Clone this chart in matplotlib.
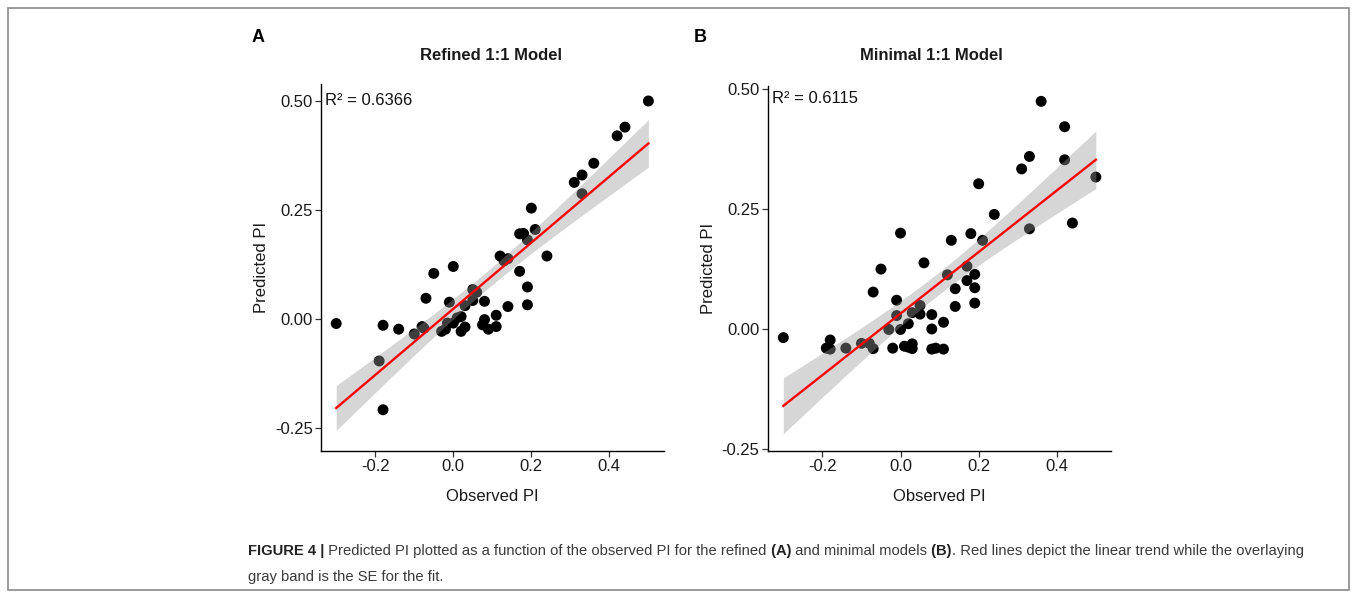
import numpy as np
import matplotlib
matplotlib.use("Agg")
import matplotlib.pyplot as plt
from matplotlib.patches import Rectangle

plt.rcParams['font.family'] = ['Liberation Sans', 'DejaVu Sans']

# ---------------- data ----------------
obs_A = [0.50, 0.44, 0.42, 0.36, 0.33, 0.31, 0.33, 0.20, 0.21, 0.17, 0.18, 0.19, 0.24,
         0.12, 0.13, 0.14, 0.17, 0.19, 0.19, 0.14, 0.11, 0.11, 0.08, 0.08, 0.075, 0.09,
         0.05, 0.06, 0.05, 0.03, 0.00, -0.05, -0.07, -0.01, 0.02, 0.01, 0.00, -0.015,
         -0.02, -0.03, 0.03, 0.02, -0.08, -0.075, -0.10, -0.14, -0.18, -0.30, -0.19, -0.18]
pred_A = [0.50, 0.44, 0.42, 0.357, 0.33, 0.313, 0.287, 0.254, 0.205, 0.195, 0.196, 0.181,
          0.144, 0.144, 0.133, 0.138, 0.109, 0.073, 0.032, 0.028, 0.008, -0.018, 0.040,
          -0.002, -0.014, -0.024, 0.067, 0.061, 0.042, 0.030, 0.120, 0.104, 0.047, 0.038,
          0.005, 0.002, -0.010, -0.010, -0.024, -0.029, -0.019, -0.029, -0.018, -0.022,
          -0.035, -0.024, -0.015, -0.011, -0.097, -0.209]

obs_B = [0.36, 0.42, 0.33, 0.31, 0.42, 0.50, 0.20, 0.24, 0.33, 0.44, 0.00, 0.13, 0.18,
         0.21, 0.06, -0.05, 0.12, 0.17, 0.19, 0.17, 0.19, 0.14, 0.19, 0.14, -0.07, -0.01,
         0.05, 0.03, 0.05, -0.01, 0.08, 0.11, 0.02, 0.00, -0.03, 0.08, -0.30, -0.18, -0.19,
         -0.18, -0.14, -0.10, -0.08, -0.07, -0.02, 0.01, 0.02, 0.03, 0.03, 0.08, 0.09, 0.11]
pred_B = [0.475, 0.422, 0.360, 0.334, 0.353, 0.317, 0.303, 0.239, 0.209, 0.221, 0.200,
          0.185, 0.199, 0.185, 0.138, 0.125, 0.113, 0.131, 0.114, 0.101, 0.086, 0.084,
          0.054, 0.047, 0.077, 0.060, 0.049, 0.034, 0.031, 0.028, 0.030, 0.014, 0.011,
          -0.001, -0.001, 0.000, -0.018, -0.023, -0.040, -0.042, -0.040, -0.030, -0.030,
          -0.041, -0.040, -0.036, -0.038, -0.031, -0.041, -0.042, -0.040, -0.042]

panel_letters = ["A", "B"]
titles = ["Refined 1:1 Model", "Minimal 1:1 Model"]
r2_labels = ["R\u00b2 = 0.6366", "R\u00b2 = 0.6115"]
x_label = "Observed PI"
y_label = "Predicted PI"
x_ticks = [-0.2, 0.0, 0.2, 0.4]
y_ticks = [-0.25, 0.00, 0.25, 0.50]
T_CRIT = 2.01  # 95% t quantile, ~48 df

# ---------------- figure ----------------
W, H = 1354, 596
fig = plt.figure(figsize=(W / 100, H / 100), dpi=100)

def fx(px):
    return px / W

def fy(py):
    return 1 - py / H

# outer frame
fig.add_artist(Rectangle((fx(8), fy(590)), fx(1349) - fx(8), fy(8) - fy(590),
                         transform=fig.transFigure, fill=False, edgecolor='#8a8a8a', lw=1.2))

axA = fig.add_axes([fx(321), fy(450.7), fx(664) - fx(321), fy(84) - fy(450.7)])
axB = fig.add_axes([fx(767.7), fy(450.7), fx(1110.7) - fx(767.7), fy(86) - fy(450.7)])

ylims = [(-0.303, 0.539), (-0.254, 0.507)]
xlims = [(-0.339, 0.540), (-0.340, 0.538)]
r2_ypos = [0.956, 0.967]
title_px = [(491, 55), (931, 55)]
letter_px = [(258, 37), (700, 37)]

def fit_band(x, y):
    x = np.asarray(x, float)
    y = np.asarray(y, float)
    n = len(x)
    b, a = np.polyfit(x, y, 1)
    resid = y - (a + b * x)
    s = np.sqrt(np.sum(resid ** 2) / (n - 2))
    xm = x.mean()
    sxx = np.sum((x - xm) ** 2)
    xs = np.linspace(x.min(), x.max(), 100)
    ys = a + b * xs
    se = s * np.sqrt(1.0 / n + (xs - xm) ** 2 / sxx)
    return xs, ys, ys - T_CRIT * se, ys + T_CRIT * se

for i, (ax, xo, yp) in enumerate([(axA, obs_A, pred_A), (axB, obs_B, pred_B)]):
    ax.scatter(xo, yp, s=62, color='black', edgecolors='none', zorder=2)
    xs, ys, lo, hi = fit_band(xo, yp)
    ax.fill_between(xs, lo, hi, color='#999999', alpha=0.4, lw=0, zorder=3)
    ax.plot(xs, ys, color='red', lw=1.7, zorder=4)
    ax.set_xlim(*xlims[i])
    ax.set_ylim(*ylims[i])
    ax.set_xticks(x_ticks)
    ax.set_xticklabels([f"{v:.1f}" for v in x_ticks])
    ax.set_yticks(y_ticks)
    ax.set_yticklabels([f"{v:.2f}" for v in y_ticks])
    for side in ['top', 'right']:
        ax.spines[side].set_visible(False)
    for side in ['left', 'bottom']:
        ax.spines[side].set_linewidth(1.0)
        ax.spines[side].set_color('black')
    ax.tick_params(axis='both', direction='out', length=4, width=0.9, color='#333333',
                   labelsize=12, labelcolor='#1a1a1a', pad=2)
    ax.set_xlabel(x_label, fontsize=12, labelpad=11, color='#1a1a1a')
    ax.set_ylabel(y_label, fontsize=12, labelpad=4, color='#1a1a1a')
    ax.text(0.012, r2_ypos[i], r2_labels[i], transform=ax.transAxes,
            fontsize=12, ha='left', va='center', color='#111111')
    fig.text(fx(title_px[i][0]), fy(title_px[i][1]), titles[i], fontsize=12,
             fontweight='bold', ha='center', va='center', color='#1a1a1a')
    fig.text(fx(letter_px[i][0]), fy(letter_px[i][1]), panel_letters[i], fontsize=13,
             fontweight='bold', ha='center', va='center')

# ---------------- caption ----------------
cap_font = ['Liberation Sans', 'DejaVu Sans']
line1 = [("FIGURE 4 |", True, '#222222'),
         (" Predicted PI plotted as a function of the observed PI for the refined", False, '#3a3a3a'),
         (" (A)", True, '#222222'),
         (" and minimal models", False, '#3a3a3a'),
         (" (B)", True, '#222222'),
         (". Red lines depict the linear trend while the overlaying", False, '#3a3a3a')]
line2 = [("gray band is the SE for the fit.", False, '#3a3a3a')]

renderer = fig.canvas.get_renderer()

def draw_runs(runs, x0_px, y_px, size):
    x = x0_px
    arts = []
    for txt, bold, col in runs:
        t = fig.text(fx(x), fy(y_px), txt, fontsize=size, family=cap_font,
                     fontweight='bold' if bold else 'normal', color=col,
                     ha='left', va='center')
        bb = t.get_window_extent(renderer=renderer)
        x += bb.width
        arts.append(t)
    return x - x0_px, arts

# measure then fit line 1 to the reference width
w, arts = draw_runs(line1, 248, 551, 11.5)
for a in arts:
    a.remove()
size = 11.5 * 1057.0 / w
draw_runs(line1, 248, 551, size)
draw_runs(line2, 248, 577, size)

fig.savefig("out.png", dpi=100)
